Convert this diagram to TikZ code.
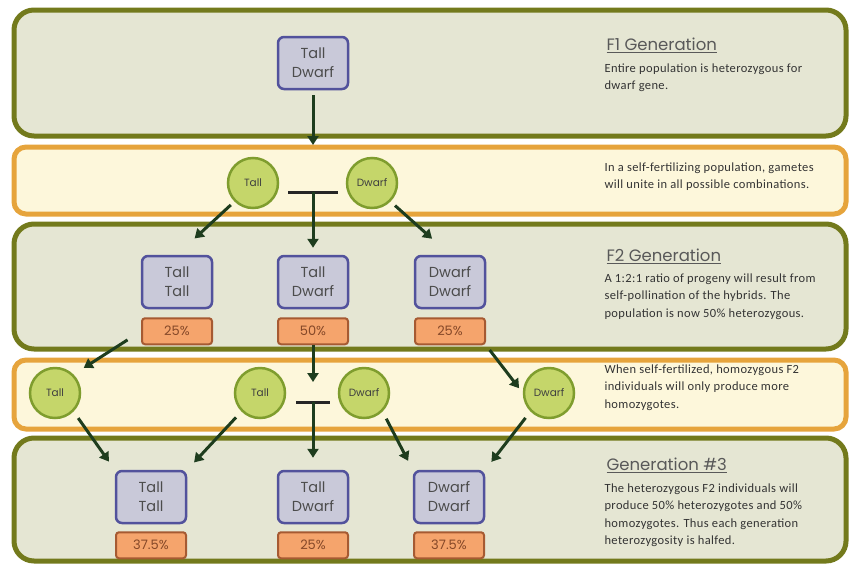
\documentclass[tikz,border=0pt]{standalone}
\usepackage{fontspec}
\setmainfont{Carlito}[LetterSpace=3]
\newfontfamily\gothic{Poppins}
\usetikzlibrary{positioning,arrows.meta}

\definecolor{olive}{HTML}{737A1C}
\definecolor{palegreen}{HTML}{E5E6D3}
\definecolor{amber}{HTML}{E6A43C}
\definecolor{cream}{HTML}{FDF7DB}
\definecolor{lavender}{HTML}{C9C9D9}
\definecolor{indigo}{HTML}{52529C}
\definecolor{peach}{HTML}{F5A46C}
\definecolor{rust}{HTML}{A65A32}
\definecolor{lime}{HTML}{C5D66A}
\definecolor{moss}{HTML}{7F9D2E}
\definecolor{pine}{HTML}{1E3D1E}

\begin{document}
\begin{tikzpicture}[x=1pt, y=-1pt,
  genband/.style={draw=olive, line width=5pt, fill=palegreen, rounded corners=20pt},
  gamband/.style={draw=amber, line width=5pt, fill=cream, rounded corners=12pt},
  pair/.style={shape=rectangle, draw=indigo, line width=2.5pt, fill=lavender, rounded corners=6pt,
    minimum width=70pt, minimum height=52pt, inner sep=0pt, align=center,
    font=\gothic\fontsize{14.5}{19}\selectfont, text=black!70},
  share/.style={shape=rectangle, draw=rust, line width=2pt, fill=peach, rounded corners=3pt,
    minimum width=70pt, minimum height=26pt, inner sep=0pt,
    font=\gothic\fontsize{13}{15}\selectfont, text=rust!80!black},
  gamete/.style={shape=circle, draw=moss, line width=2.5pt, fill=lime, minimum size=50pt,
    inner sep=0pt, font=\gothic\fontsize{10.5}{12}\selectfont, text=black!75},
  title/.style={anchor=west, font=\gothic\fontsize{16.5}{19}\selectfont, text=black!65},
  note/.style={anchor=north west, align=left, font=\fontsize{12.5}{17.5}\selectfont, text=black!80},
  arr/.style={draw=pine, line width=3pt, -{Triangle[length=9pt,width=11pt]}},
  bar/.style={draw=black!85, line width=3pt}]
\useasboundingbox (0,0) rectangle (850,565);

% bands
\draw[genband] (14,10) rectangle (846,136);
\draw[gamband] (14,147) rectangle (846,214);
\draw[genband] (14,224) rectangle (846,349);
\draw[gamband] (14,360) rectangle (846,429);
\draw[genband] (14,438) rectangle (846,561);

% F1
\node [pair] (F1) at (313,63) {Tall\\Dwarf};

% gametes of F1
\node [gamete] (G1) at (253,183) {Tall};
\node [gamete] (G2) at (372,183) {Dwarf};
\coordinate (j1) at (313,192);
\coordinate (j1l) at (288,192);
\coordinate (j1r) at (338,192);

% F2
\node [pair] (F2a) at (177,282) {Tall\\Tall};
\node [pair] (F2b) at (313,282) {Tall\\Dwarf};
\node [pair] (F2c) at (450,282) {Dwarf\\Dwarf};
\node [share, below=8pt of F2a] (P1) {25\%};
\node [share, below=8pt of F2b] (P2) {50\%};
\node [share, below=8pt of F2c] (P3) {25\%};

% gametes of F2
\node [gamete] (C1) at (55,393) {Tall};
\node [gamete] (C2) at (260,393) {Tall};
\node [gamete] (C3) at (364,393) {Dwarf};
\node [gamete] (C4) at (549,393) {Dwarf};
\coordinate (j2) at (313,402);
\coordinate (j2l) at (296,402);
\coordinate (j2r) at (330,402);

% generation 3
\node [pair] (F3a) at (151,497) {Tall\\Tall};
\node [pair] (F3b) at (313,497) {Tall\\Dwarf};
\node [pair] (F3c) at (449,497) {Dwarf\\Dwarf};
\node [share, below=7pt of F3a] (Q1) {37.5\%};
\node [share, below=7pt of F3b] (Q2) {25\%};
\node [share, below=7pt of F3c] (Q3) {37.5\%};

% notes
\node [title] (T1) at (603,45) {\underline{F1 Generation}};
\node [note] (N1) at (601,60) {Entire population is heterozygous for\\dwarf gene.};
\node [note] (N2) at (601,159) {In a self-fertilizing population, gametes\\will unite in all possible combinations.};
\node [title] (T2) at (603,256) {\underline{F2 Generation}};
\node [note] (N3) at (601,270) {A 1:2:1 ratio of progeny will result from\\self-pollination of the hybrids. The\\population is now 50\% heterozygous.};
\node [note] (N4) at (601,361) {When self-fertilized, homozygous F2\\individuals will only produce more\\homozygotes.};
\node [title] (T3) at (603,465) {\underline{Generation \#3}};
\node [note] (N5) at (601,480) {The heterozygous F2 individuals will\\produce 50\% heterozygotes and 50\%\\homozygotes. Thus each generation\\heterozygosity is halfed.};

% arrows
\draw[arr, shorten <=5pt, shorten >=47pt] (F1) -- (j1);
\draw[bar] (j1l) -- (j1r);
\draw[arr, shorten >=7pt] (j1) -- (F2b);
\draw[arr, shorten <=5pt, shorten >=24pt] (G1.south west) -- (F2a.north);
\draw[arr, shorten <=6pt, shorten >=24pt] (G2.south east) -- (F2c.north);

\draw[arr, shorten <=16pt, shorten >=12pt] (P1.west) -- (C1.north east);
\draw[arr, shorten >=20pt] (P2) -- (j2);
\draw[arr, shorten <=6pt, shorten >=6pt] (P3.south east) -- (C4.west);
\draw[bar] (j2l) -- (j2r);
\draw[arr, shorten >=12pt] (j2) -- (F3b);

\draw[arr, shorten <=8pt, shorten >=10pt] (C1.south east) -- (F3a.north west);
\draw[arr, shorten <=8pt, shorten >=10pt] (C2.south west) -- (F3a.north east);
\draw[arr, shorten <=8pt, shorten >=10pt] (C3.south east) -- (F3c.north west);
\draw[arr, shorten <=8pt, shorten >=10pt] (C4.south west) -- (F3c.north east);
\end{tikzpicture}
\end{document}
